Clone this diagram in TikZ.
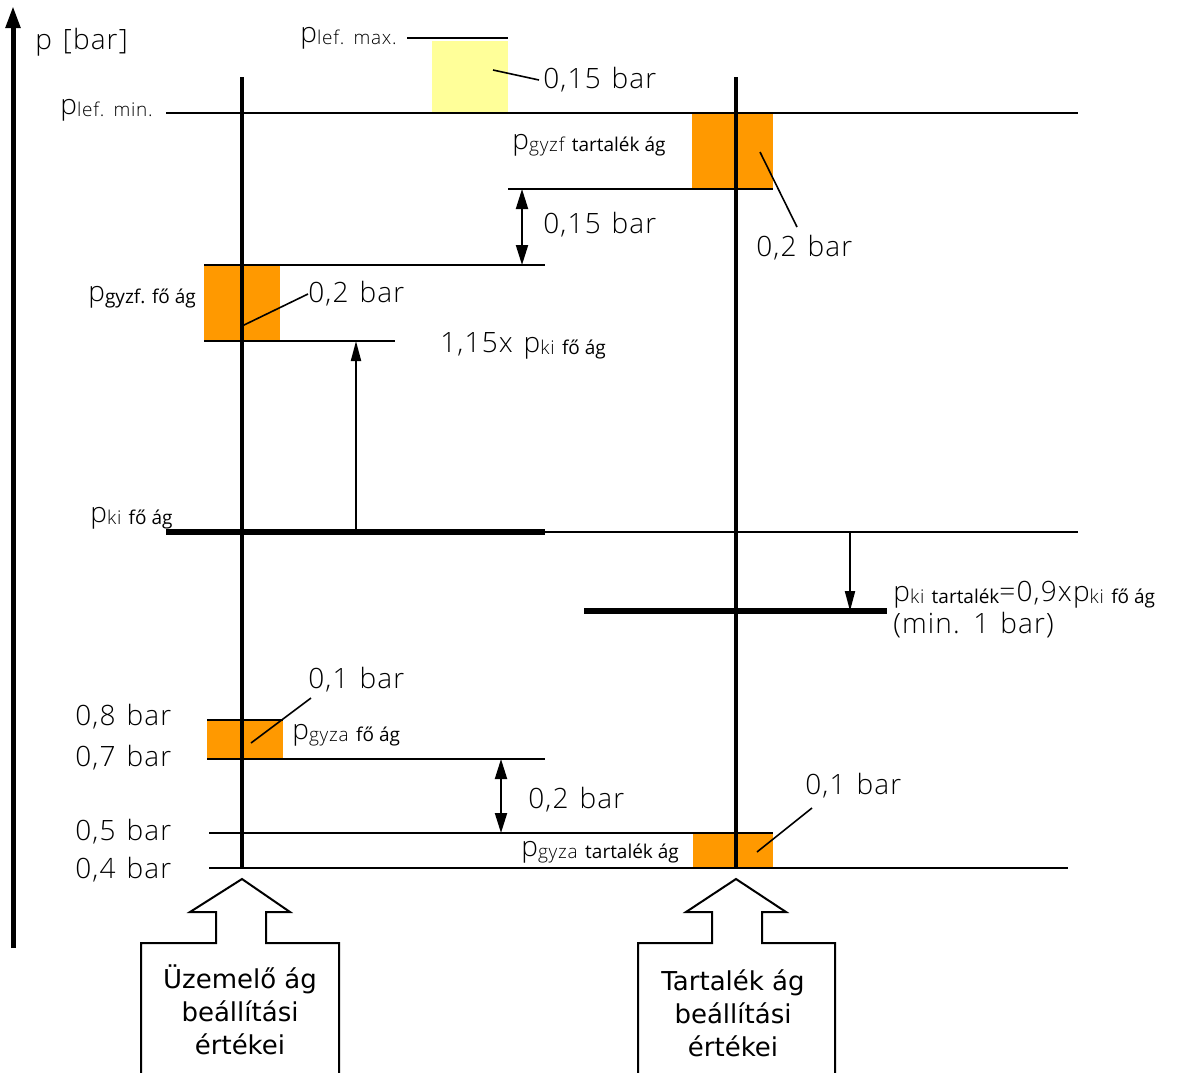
\documentclass[tikz,border=0pt]{standalone}
\usepackage{fontspec}
\IfFontExistsTF{Open Sans Light}{\setmainfont{Open Sans Light}[LetterSpace=4,WordSpace=1.3]}{\setmainfont{Open Sans}[LetterSpace=4,WordSpace=1.3]}
\newfontfamily\subfont{Open Sans}
\newfontfamily\boxfont{DejaVu Sans}
\usetikzlibrary{arrows.meta}
\definecolor{tolor}{HTML}{FF9900}
\definecolor{lefyellow}{HTML}{FFFF99}
\newcommand\psub[2]{p\raisebox{-1pt}{\fontsize{9.5}{11}\selectfont#1{\subfont#2}}}
\begin{document}
\begin{tikzpicture}[x=0.5pt,y=-0.5pt,
    lvl/.style={line width=1pt},
    pline/.style={line width=3pt},
    bline/.style={line width=2pt},
    leader/.style={line width=0.8pt},
    gaparrow/.style={line width=1pt,{Triangle[length=10pt,width=6pt]}-{Triangle[length=10pt,width=6pt]}},
    movearrow/.style={line width=1pt,-{Triangle[length=10pt,width=5pt]}},
    lbl/.style={anchor=west,inner sep=0pt,font=\fontsize{14}{16}\selectfont},
    setbox/.style={draw,line width=1pt,fill=white}]
  \useasboundingbox (0,0) rectangle (1178,1072);
  % tolerance bands
  \fill[lefyellow] (432,41) rectangle (508,112);
  \fill[tolor] (692,113) rectangle (773,189);
  \fill[tolor] (204,265) rectangle (280,341);
  \fill[tolor] (207,720) rectangle (283,759);
  \fill[tolor] (693,833) rectangle (773,868);
  % points
  \path
    (13,948) coordinate (a0) (13,6) coordinate (a1)
    (242,77) coordinate (f0) (242,868) coordinate (f1)
    (736,77) coordinate (t0) (736,868) coordinate (t1)
    (522,189) coordinate (g0) (522,265) coordinate (g1)
    (501,759) coordinate (h0) (501,833) coordinate (h1)
    (356,532) coordinate (k0) (356,341) coordinate (k1)
    (850,532) coordinate (m0) (850,611) coordinate (m1);
  % labels
  \draw
    (35,42) node[lbl] (pbar) {p [bar]}
    (300,38) node[lbl] (lefmax) {\psub{lef. max.}{}}
    (60,110) node[lbl] (lefmin) {\psub{lef. min.}{}}
    (512,145) node[lbl] (gyzft) {\psub{gyzf }{tartalék ág}}
    (543,80) node[lbl] (d1) {0,15 bar}
    (543,225) node[lbl] (d2) {0,15 bar}
    (756,248) node[lbl] (d3) {0,2 bar}
    (88,297) node[lbl] (gyzff) {\psub{}{gyzf. fő ág}}
    (308,294) node[lbl] (d4) {0,2 bar}
    (440,346) node[lbl] (kimax) {1,15x \psub{ki }{fő ág}}
    (90,518) node[lbl] (kif) {\psub{ki }{fő ág}}
    (893,595) node[lbl] (kit) {\psub{ki }{tartalék}=0,9x\psub{ki }{fő ág}}
    (893,625) node[lbl] (kimin) {(min. 1 bar)}
    (308,680) node[lbl] (d5) {0,1 bar}
    (75,717) node[lbl] (v8) {0,8 bar}
    (75,758) node[lbl] (v7) {0,7 bar}
    (75,832) node[lbl] (v5) {0,5 bar}
    (75,870) node[lbl] (v4) {0,4 bar}
    (292,735) node[lbl] (gyzaf) {\psub{gyza }{fő ág}}
    (528,800) node[lbl] (d6) {0,2 bar}
    (805,786) node[lbl] (d7) {0,1 bar}
    (521,852) node[lbl] (gyzat) {\psub{gyza }{tartalék ág}};
  % pressure levels
  \begin{scope}[lvl]
    \draw (407,38) -- (508,38);
    \draw (166,113) -- (1078,113);
    \draw (508,189) -- (773,189);
    \draw (204,265) -- (545,265);
    \draw (204,341) -- (395,341);
    \draw (545,532) -- (1078,532);
    \draw (207,720) -- (283,720);
    \draw (207,759) -- (545,759);
    \draw (209,833) -- (773,833);
    \draw (209,868) -- (1068,868);
  \end{scope}
  \draw[pline] (166,532) -- (545,532);
  \draw[pline] (584,611) -- (887,611);
  \draw[bline] (f0) -- (f1);
  \draw[bline] (t0) -- (t1);
  \draw[line width=2.5pt,-{Triangle[length=11pt,width=7pt]}] (a0) -- (a1);
  % differences
  \draw[gaparrow] (g0) -- (g1);
  \draw[gaparrow] (h0) -- (h1);
  \draw[movearrow] (k0) -- (k1);
  \draw[movearrow] (m0) -- (m1);
  \begin{scope}[leader]
    \draw (493,70) -- ([xshift=-2pt]d1.west);
    \draw (760,152) -- (797,227);
    \draw (242,326) -- (d4.west);
    \draw (251,743) -- (311,698);
    \draw (757,852) -- (812,808);
  \end{scope}
  % setting boxes
  \draw[setbox] (141,1074) -- (141,943) -- (216,943) -- (216,912) -- (190,912)
    -- (242,879) -- (290,912) -- (266,912) -- (266,943) -- (339,943) -- (339,1074);
  \draw[setbox] (638,1074) -- (638,943) -- (712,943) -- (712,912) -- (686,912)
    -- (736,879) -- (786,912) -- (762,912) -- (762,943) -- (835,943) -- (835,1074);
  \node[align=center,font=\boxfont\fontsize{13}{16.5}\selectfont] (fobox) at (240,1010)
    {Üzemelő ág\\beállítási\\értékei};
  \node[align=center,font=\boxfont\fontsize{13}{16.5}\selectfont] (tartbox) at (733,1013)
    {Tartalék ág\\beállítási\\értékei};
\end{tikzpicture}
\end{document}
